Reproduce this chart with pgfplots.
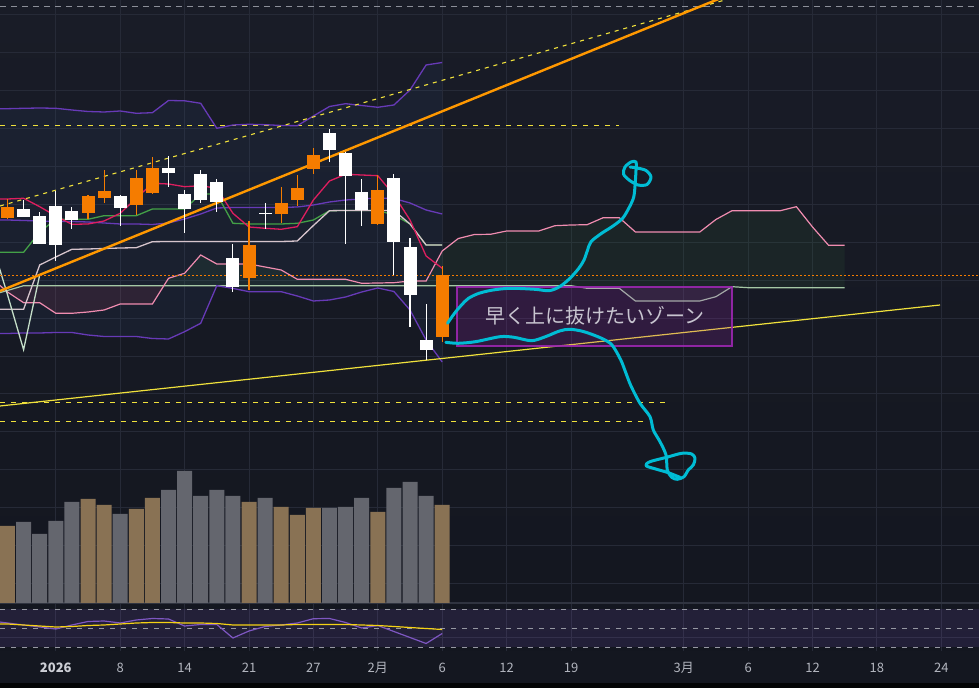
\documentclass[border=0pt]{standalone}
\usepackage{fontspec}
\setmainfont{Noto Sans CJK JP}
\usepackage{pgfplots}
\pgfplotsset{compat=1.18}
\usepackage{pgfplotstable}
\usepgfplotslibrary{fillbetween}

\definecolor{bgtop}{RGB}{25,28,39}
\definecolor{bgbot}{RGB}{19,22,31}
\definecolor{gridc}{RGB}{38,42,55}
\definecolor{cOrange}{RGB}{245,124,0}
\definecolor{tline}{RGB}{255,152,0}
\definecolor{ydash}{RGB}{240,225,60}
\definecolor{bbp}{RGB}{103,58,183}
\definecolor{tenkan}{RGB}{222,30,95}
\definecolor{kijun}{RGB}{67,160,71}
\definecolor{pale}{RGB}{214,196,204}
\definecolor{chik}{RGB}{196,222,200}
\definecolor{spana}{RGB}{165,200,165}
\definecolor{spanb}{RGB}{240,140,176}
\definecolor{volup}{RGB}{137,114,84}
\definecolor{voldn}{RGB}{100,102,110}
\definecolor{rsic}{RGB}{126,87,194}
\definecolor{rsima}{RGB}{245,210,20}
\definecolor{boxc}{RGB}{156,39,176}
\definecolor{cyanl}{RGB}{0,188,212}
\definecolor{labc}{RGB}{178,181,190}
\definecolor{datebg}{RGB}{20,23,32}
\definecolor{sepc}{RGB}{48,52,64}
\definecolor{oscd}{RGB}{150,152,162}

% candles: up (orange) and down (white), y in chart units
\pgfplotstableread{
i O H L C
0 385.3 404 384 395.7
5 390.3 408 383.7 407
6 405.3 433 400.3 412
8 398.3 433 388 425
9 410.3 446 409.3 435
15 325.3 382 313.3 358
17 389.3 416 380 400
18 403.3 428 397.3 415
19 434.3 454.7 429.3 448
23 379 428 378 413
27 266.3 337 261.3 328
}\upbars
\pgfplotstableread{
i O H L C
1 394 403 386.3 386.3
2 387 390.7 359.3 359.3
3 397 412 342.3 358
4 392 395.7 374.3 383.3
7 407 408 377.3 395.3
10 435 447 416.3 430.3
11 409 413 370.3 394.3
12 429 433 400.3 403.3
13 421 424 391.3 401.3
14 345 359 311.3 316.3
16 390.2 399.7 374.3 389.2
20 470 474 441.3 453.3
21 450 451.3 359.3 427.3
22 411 424 377.3 393.3
24 425 429 328 361.3
25 356 365 276.3 308.3
26 263 299 243 253.3
}\downbars

% volume
\pgfplotstableread{
i v
0 77
5 104
6 98
8 94
9 105
15 101
17 96
18 88
19 95
23 91
27 98
}\volup
\pgfplotstableread{
i v
1 81
2 69
3 82
4 101
7 89
10 113
11 132
12 107
13 113
14 107
16 105
20 95
21 96
22 105
24 115
25 121
26 107
}\voldn

% indicators
\pgfplotstableread{
i bbu bbm bbl tk kj pl rsi ma
-1 494.3 383 269.5 404 350.7 293.7 -18 -21
0 494.3 383 269.5 404 350.7 293.7 -20 -21
1 494.7 382.5 270 404.7 350.7 293.7 -22 -22
2 495 382 270 396.3 371 338 -24 -23
3 494.7 381.5 270.5 387 383.7 346 -26 -24
4 493 381.5 270.5 378.7 383.7 353.7 -22 -23.5
5 491.5 381 268 379 383.7 354 -18.5 -22.5
6 491 380 266.5 382 387.3 354.5 -18 -22
7 492 379 266.5 389.7 387.3 355 -20 -21
8 489.7 379 266.5 404.7 387.3 355.3 -17 -20
9 490.3 378.5 264.5 419.7 394 361.3 -15.5 -19.5
10 502.5 380 264 419 394 361.5 -16 -19.5
11 502.2 384 271.3 416.3 394 361.5 -23 -20
12 499.7 389 279.7 417.3 409 361.5 -21.5 -20
13 474.7 395 317.3 414.7 409 361.5 -21.5 -20.5
14 478 395.5 314.6 389.7 379.7 361.5 -35 -22
15 478.7 395.5 311.3 376 379 361.5 -28 -22
16 478.3 395.5 311.3 374.7 379 361.5 -23.5 -22
17 477.5 395.5 311.3 373.7 379 361.5 -22 -22
18 477.3 396 307 376.3 379.7 362 -20 -21.5
19 487 398 302 403 383 377.5 -15.7 -21.5
20 496.5 401 303 422 392.3 392.3 -15.5 -21.5
21 499.3 403 306 428.7 392.5 392.5 -19.5 -21.5
22 497.5 404 311 428 392.5 392.5 -25 -22
23 495.7 405 315 427.3 392.5 392.5 -22.5 -22.5
24 498 404.5 311.5 408 388 392.5 -28.5 -23.5
25 513 400 293 383 379 379 -34.5 -24.5
26 538 393 263 347 358 358 -40.5 -25.5
27 540.5 389 241 334.7 358 358 -30.5 -26.5
}\ind

% ichimoku cloud (leading spans, shifted forward)
\pgfplotstableread{
i sa sb
-1 308 325
0 312.5 311
1 317.3 300.3
2 317.3 300.3
3 317.3 289.7
4 317.3 289.7
5 317.3 291
6 317.3 293
7 317.3 299
8 317.3 299
9 317.3 299
10 317.3 324.7
11 317.3 329.7
12 317.3 348
13 317.3 339
14 317.3 339
15 317.3 339
16 317.3 336
17 317.3 333
18 317.3 323.7
19 317.3 323.7
20 317.3 323.7
21 317.3 323.7
22 317.3 319.7
23 317.3 320
24 317.3 320.3
25 317.3 322
26 317.3 322
27 317.3 352
28 317.3 364.5
29 317.3 368.5
30 317.3 368.7
31 317.3 372
32 317.3 372
33 317.3 372
34 317.3 377.3
35 317.3 378
36 314.7 378.3
37 314.7 385.3
38 314.7 385.3
39 302 371
40 302 371
41 302 371
42 302 371
43 302 371
44 306.3 383.5
45 316.3 392.3
46 315.3 392.3
47 315.3 392.3
48 315.3 392.3
49 315.3 396.3
50 315.3 376
51 315.3 357.7
52 315.3 357.7
}\cloud

% hand-drawn cyan strokes (picture px coordinates)
\pgfplotstableread{
px py
447.5 323.3
454.5 313.3
461.5 305
468.5 298.3
479 293.3
493 290
510.5 288.3
535 289.3
549 290.7
559.6 286.7
570 278.3
578.8 268.3
584 260
587.6 250
591 241.7
601.6 233.3
612 226.7
622.6 218.3
629.6 206.7
633.8 196.7
635.2 183.3
635.9 172
636 162
631 162
625 167
623.5 174
629 180
638 185
647 184.5
651 177
646 170.5
637 168
630 167
}\cyanA
\pgfplotstableread{
px py
445.8 342.3
458 343.3
475.5 341.7
500 336.7
514 337.3
531.5 340.7
545.5 336.7
559.5 331
570 329.3
584 331.7
601.6 338.3
612 345
620.8 360
626 373.3
631 386
640 403.3
650 416.7
653.3 430
660 441.7
666 455
667.3 470
671.7 477.3
677.3 479.3
684 476.7
688.3 470
693.3 465
695 458.3
691.7 454
681.7 453.3
666.7 457.3
650 461.7
646 465.7
656.7 469.3
668.3 472.7
680 477.3
}\cyanB

\begin{document}
\begin{tikzpicture}
\begin{axis}[
  scale only axis, width=979bp, height=688bp,
  xmin=-0.4658, xmax=60.3416, ymin=-85, ymax=603,
  axis line style={draw=none}, major tick length=0pt,
  xtick={3,7,11,15,19,23,27,31,35,42,46,50,54,58},
  ytick={-34,20,58,96,134,172,210,247,285,323,361,399,437,475,513,551,589},
  xticklabels={}, yticklabels={},
  grid=major, major grid style={draw=gridc, line width=0.9bp},
  axis background/.style={top color=bgtop, bottom color=bgbot},
]
% oscillator pane band
\fill[rsic, fill opacity=0.15] (axis cs:-1,-6.3) rectangle (axis cs:61,-44.3);
% time axis area
\fill[datebg] (axis cs:-1,-48.5) rectangle (axis cs:61,-86);
\fill[black!85!datebg] (axis cs:-1,-79.8) rectangle (axis cs:61,-86);
\draw[sepc, line width=1.2bp] (axis cs:-1,0) -- (axis cs:61,0);

% Bollinger fill
\addplot[draw=none, name path=bbu] table[x=i, y=bbu] {\ind};
\addplot[draw=none, name path=bbl] table[x=i, y=bbl] {\ind};
\addplot[fill={rgb,255:red,70;green,110;blue,180}, fill opacity=0.08] fill between[of=bbu and bbl];

% cloud fill
\addplot[draw=none, name path=sa] table[x=i, y=sa] {\cloud};
\addplot[draw=none, name path=sb] table[x=i, y=sb] {\cloud};
\addplot[fill={rgb,255:red,240;green,80;blue,110}, fill opacity=0.10] fill between[of=sa and sb, soft clip={domain=-1:9.71}];
\addplot[fill={rgb,255:red,76;green,175;blue,80}, fill opacity=0.08] fill between[of=sa and sb, soft clip={domain=9.71:52}];

% horizontal levels
\addplot[color={rgb,255:red,140;green,143;blue,153}, line width=1bp, dash pattern=on 6bp off 5bp] coordinates {(-0.4658,596) (60.3416,596)};
\addplot[ydash, line width=1bp, dash pattern=on 5bp off 6bp] coordinates {(-0.4658,477.7) (37.98,477.7)};
\addplot[ydash, line width=1bp, dash pattern=on 5bp off 6bp] coordinates {(-0.4658,200) (40.9,200)};
\addplot[ydash, line width=1bp, dash pattern=on 5bp off 6bp] coordinates {(-0.4658,181) (39.8,181)};
\addplot[oscd, line width=0.9bp, dash pattern=on 5bp off 6bp] coordinates {(-0.4658,-6.3) (60.3416,-6.3)};
\addplot[oscd, line width=0.9bp, dash pattern=on 5bp off 6bp] coordinates {(-0.4658,-25.3) (60.3416,-25.3)};
\addplot[oscd, line width=0.9bp, dash pattern=on 5bp off 6bp] coordinates {(-0.4658,-44.3) (60.3416,-44.3)};

% volume
\addplot[ybar, bar width=15bp, bar shift=0pt, fill=volup, draw=none] table[x=i, y=v] {\volup};
\addplot[ybar, bar width=15bp, bar shift=0pt, fill=voldn, draw=none] table[x=i, y=v] {\voldn};

% indicator lines
\addplot[spana, line width=1.2bp] table[x=i, y=sa] {\cloud};
\addplot[spanb, line width=1.2bp] table[x=i, y=sb] {\cloud};
\addplot[bbp, line width=1.3bp] table[x=i, y=bbu] {\ind};
\addplot[bbp, line width=1.3bp] table[x=i, y=bbm] {\ind};
\addplot[bbp, line width=1.3bp] table[x=i, y=bbl] {\ind};
\addplot[kijun, line width=1.3bp] table[x=i, y=kj] {\ind};
\addplot[pale, line width=1.3bp] table[x=i, y=pl] {\ind};
\addplot[tenkan, line width=1.3bp] table[x=i, y=tk] {\ind};
\addplot[chik, line width=1.3bp] coordinates {(-1,361.3) (0,308.3) (1,253.3) (2,328)};
\addplot[rsic, line width=1.2bp] table[x=i, y=rsi] {\ind};
\addplot[rsima, line width=1.2bp] table[x=i, y=ma] {\ind};

% trend lines
\addplot[ydash, line width=1.1bp, dash pattern=on 4bp off 5bp] coordinates {(-0.4658,397) (45.5,607.3)};
\addplot[tline, line width=2.4bp] coordinates {(-0.4658,312) (45.5,612.7)};
\addplot[ydash, line width=1.2bp] coordinates {(-0.4658,197) (57.92,298)};
% last price line
\addplot[cOrange, line width=1bp, dash pattern=on 1.5bp off 2.5bp] coordinates {(-0.4658,327.3) (60.3416,327.3)};

% candles: wicks and bodies
\addplot[draw=none, mark=none, error bars/.cd, y dir=both, y explicit, error mark=none, error bar style={draw=cOrange, line width=1.1bp}]
  table[x=i, y expr={(\thisrow{H}+\thisrow{L})/2}, y error expr={(\thisrow{H}-\thisrow{L})/2}] {\upbars};
\addplot[draw=none, mark=none, error bars/.cd, y dir=both, y explicit, error mark=none, error bar style={draw=white, line width=1.1bp}]
  table[x=i, y expr={(\thisrow{H}+\thisrow{L})/2}, y error expr={(\thisrow{H}-\thisrow{L})/2}] {\downbars};
\addplot[draw=none, mark=none, error bars/.cd, y dir=both, y explicit, error mark=none, error bar style={draw=cOrange, line width=13bp}]
  table[x=i, y expr={(\thisrow{O}+\thisrow{C})/2}, y error expr={abs(\thisrow{O}-\thisrow{C})/2}] {\upbars};
\addplot[draw=none, mark=none, error bars/.cd, y dir=both, y explicit, error mark=none, error bar style={draw=white, line width=13bp}]
  table[x=i, y expr={(\thisrow{O}+\thisrow{C})/2}, y error expr={abs(\thisrow{O}-\thisrow{C})/2}] {\downbars};

% annotation box
\addplot[fill=boxc, fill opacity=0.2, draw=boxc, draw opacity=0.9, line width=1.3bp] coordinates {(27.92,316) (45.0,316) (45.0,257) (27.92,257)} -- cycle;
\node[font=\fontsize{20bp}{24bp}\selectfont, text={rgb,255:red,200;green,197;blue,208}] at (axis cs:36.49,287.5) {早く上に抜けたいゾーン};

% hand-drawn strokes
\addplot[cyanl, line width=3bp, smooth, tension=0.5, line cap=round, line join=round]
  table[x expr={(\thisrow{px}-7.5)/16.1}, y expr={603-\thisrow{py}}] {\cyanA};
\addplot[cyanl, line width=3bp, smooth, tension=0.5, line cap=round, line join=round]
  table[x expr={(\thisrow{px}-7.5)/16.1}, y expr={603-\thisrow{py}}] {\cyanB};

% time axis labels
\begin{scope}[every node/.style={font=\fontsize{13bp}{15bp}\selectfont, text=labc}]
\node[text={rgb,255:red,205;green,207;blue,214}] at (axis cs:3,-65) {\textbf{2026}};
\node at (axis cs:7,-65) {8};
\node at (axis cs:11,-65) {14};
\node at (axis cs:15,-65) {21};
\node at (axis cs:19,-65) {27};
\node at (axis cs:23,-65) {2月};
\node at (axis cs:27,-65) {6};
\node at (axis cs:31,-65) {12};
\node at (axis cs:35,-65) {19};
\node at (axis cs:42,-65) {3月};
\node at (axis cs:46,-65) {6};
\node at (axis cs:50,-65) {12};
\node at (axis cs:54,-65) {18};
\node at (axis cs:58,-65) {24};
\end{scope}
\end{axis}
\pgfresetboundingbox
\useasboundingbox (current axis.south west) rectangle (current axis.north east);
\end{tikzpicture}
\end{document}
